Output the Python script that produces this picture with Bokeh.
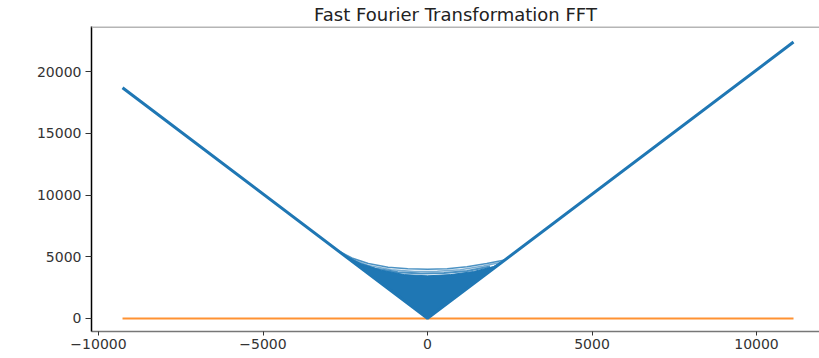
from bokeh.plotting import figure
from bokeh.models import Range1d, FixedTicker, Span
from bokeh.embed import file_html
from bokeh.resources import INLINE

# ---- data ----
fft_freq = [-9270, 0, 11125]
fft_mag = [18700, 0, 22400]

# dense (filled-looking) low-frequency region
dense_x = [-2600, -2000, -1400, -700, 0, 700, 1400, 2000, 2350, 0]
dense_y = [5240, 4400, 3900, 3550, 3450, 3550, 3800, 4200, 4740, 0]

# upper envelope of the dense region
env_x = [-2750, -2300, -1800, -1200, -600, 0, 600, 1200, 1800, 2350]
env_y = [5540, 4900, 4450, 4150, 4020, 3980, 4020, 4180, 4450, 4740]

# streaks inside the envelope
streak1_x = [-2450, -1800, -1100, -400, 300, 1000, 1700, 2250]
streak1_y = [4940, 4300, 3950, 3800, 3820, 3950, 4250, 4550]
streak2_x = [-2300, -1600, -900, -200, 500, 1200, 1900]
streak2_y = [4640, 4050, 3750, 3640, 3680, 3850, 4200]

# orange series (flat at zero)
flat_x = [-9270, 11125]
flat_y = [0, 0]

y_ticks = [0, 5000, 10000, 15000, 20000]
x_ticks = [-10000, -5000, 0, 5000, 10000]
x_tick_labels = ["\u221210000", "\u22125000", "0", "5000", "10000"]

BLUE = "#1f77b4"
ORANGE = "#ff7f0e"
FONT = "DejaVu Sans"

p = figure(width=819, height=358,
           x_range=Range1d(-10213, 11915), y_range=Range1d(-1060, 23660),
           output_backend="svg", toolbar_location=None,
           min_border_left=91, min_border_right=0,
           min_border_top=0, min_border_bottom=27)

p.title.text = "Fast Fourier Transformation FFT"
p.title.align = "center"
p.title.text_font = FONT
p.title.text_font_size = "18px"
p.title.text_font_style = "normal"
p.title.text_color = "#222222"
p.title.standoff = 3
p.title.offset = 0

p.xgrid.visible = False
p.ygrid.visible = False
p.outline_line_color = None
p.background_fill_color = "white"
p.border_fill_color = "white"

# orange flat line
p.line(flat_x, flat_y, line_color=ORANGE, line_width=2, line_alpha=0.85)

# blue spectrum
p.patch(dense_x, dense_y, fill_color=BLUE, line_color=BLUE, line_width=1)
p.line(env_x, env_y, line_color=BLUE, line_width=1.5, line_alpha=0.8)
p.line(streak1_x, streak1_y, line_color=BLUE, line_width=1.5, line_alpha=0.6)
p.line(streak2_x, streak2_y, line_color=BLUE, line_width=2, line_alpha=0.8)
p.line(fft_freq, fft_mag, line_color=BLUE, line_width=3)

# top spine
p.add_layout(Span(location=23660, dimension="width", line_color="#b5b5b5", line_width=3))

yax = p.yaxis[0]
yax.ticker = FixedTicker(ticks=y_ticks)
yax.axis_line_color = "black"
yax.axis_line_width = 1.5
yax.major_tick_out = 6
yax.major_tick_in = 0
yax.minor_tick_out = 0
yax.minor_tick_in = 0
yax.major_tick_line_color = "#333333"
yax.major_label_text_font = FONT
yax.major_label_text_font_size = "14px"
yax.major_label_text_color = "#333333"
yax.major_label_standoff = 4

xax = p.xaxis[0]
xax.ticker = FixedTicker(ticks=x_ticks)
xax.major_label_overrides = dict(zip(x_ticks, x_tick_labels))
xax.axis_line_color = "#777777"
xax.axis_line_width = 1.5
xax.major_tick_out = 4
xax.major_tick_in = 0
xax.minor_tick_out = 0
xax.minor_tick_in = 0
xax.major_tick_line_color = "#333333"
xax.major_label_text_font = FONT
xax.major_label_text_font_size = "14px"
xax.major_label_text_color = "#333333"
xax.major_label_standoff = 3

open("out.html", "w").write(file_html(p, INLINE))
